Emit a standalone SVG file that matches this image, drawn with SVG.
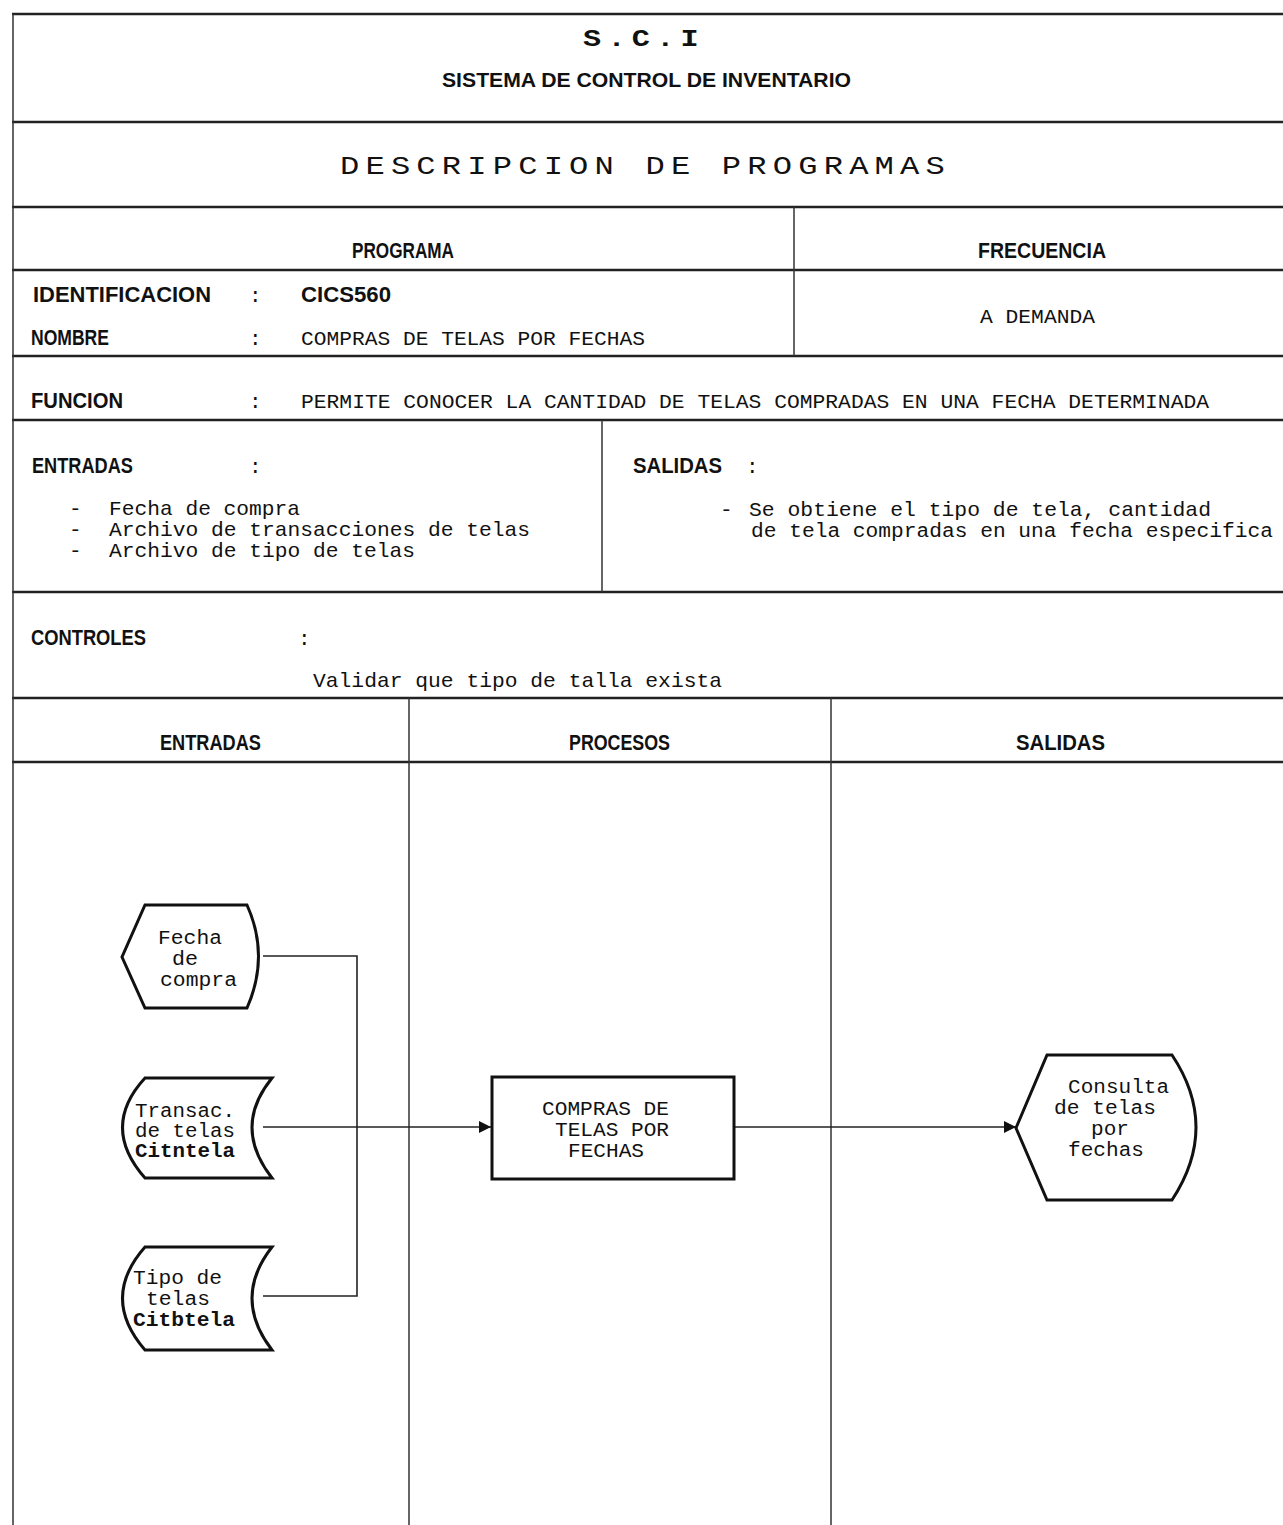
<svg xmlns="http://www.w3.org/2000/svg" width="1283" height="1525" viewBox="0 0 1283 1525">
<style>
.hl{stroke:#222;stroke-width:2.5;fill:none}
.vl{stroke:#333;stroke-width:1.5;fill:none}
.b{font-family:"Liberation Sans",Arial,sans-serif;font-weight:bold;font-size:22px;fill:#111}
.m{font-family:"Liberation Mono","DejaVu Sans Mono",monospace;font-size:21px;fill:#111}
.s{font-family:"Liberation Mono","DejaVu Sans Mono",monospace;font-size:21px;fill:#111}
.n{font-family:"Liberation Mono","DejaVu Sans Mono",monospace;font-size:20px;fill:#111}
.nb{font-family:"Liberation Mono","DejaVu Sans Mono",monospace;font-size:20px;font-weight:bold;fill:#111}
.t1{font-family:"Liberation Mono","DejaVu Sans Mono",monospace;font-size:24px;font-weight:bold;letter-spacing:5px;fill:#111}
.t2{font-family:"Liberation Mono","DejaVu Sans Mono",monospace;font-size:26px;letter-spacing:5px;fill:#111}
.shape{fill:#fff;stroke:#111;stroke-width:3}
.con{stroke:#222;stroke-width:1.6;fill:none}
</style>
<defs>
<marker id="arr" viewBox="0 0 10 10" refX="10" refY="5" markerWidth="12" markerHeight="12" markerUnits="userSpaceOnUse" orient="auto">
<path d="M0,0 L10,5 L0,10 Z" fill="#111"/>
</marker>
</defs>
<rect width="1283" height="1525" fill="#fff"/>
<g id="frame">
<line class="hl" x1="12" y1="14" x2="1283" y2="14"/>
<line class="hl" x1="12" y1="122" x2="1283" y2="122"/>
<line class="hl" x1="12" y1="207" x2="1283" y2="207"/>
<line class="hl" x1="12" y1="270" x2="1283" y2="270"/>
<line class="hl" x1="12" y1="356" x2="1283" y2="356"/>
<line class="hl" x1="12" y1="420" x2="1283" y2="420"/>
<line class="hl" x1="12" y1="592" x2="1283" y2="592"/>
<line class="hl" x1="12" y1="698" x2="1283" y2="698"/>
<line class="hl" x1="12" y1="762" x2="1283" y2="762"/>
<line class="vl" x1="13" y1="14" x2="13" y2="1525"/>
<line class="vl" x1="794" y1="207" x2="794" y2="356"/>
<line class="vl" x1="602" y1="420" x2="602" y2="592"/>
<line class="vl" x1="409" y1="698" x2="409" y2="1525"/>
<line class="vl" x1="831" y1="698" x2="831" y2="1525"/>
</g>
<g id="header">
<text class="t1" x="583" y="46" textLength="122" lengthAdjust="spacingAndGlyphs">S.C.I</text>
<text class="b" x="442" y="87" style="font-size:20px" textLength="409" lengthAdjust="spacingAndGlyphs">SISTEMA DE CONTROL DE INVENTARIO</text>
<text class="t2" x="340" y="174" textLength="611" lengthAdjust="spacingAndGlyphs">DESCRIPCION DE PROGRAMAS</text>
<text class="b" x="352" y="258" textLength="102" lengthAdjust="spacingAndGlyphs">PROGRAMA</text>
<text class="b" x="978" y="258" textLength="128" lengthAdjust="spacingAndGlyphs">FRECUENCIA</text>
<text class="b" x="33" y="302" textLength="178" lengthAdjust="spacingAndGlyphs">IDENTIFICACION</text>
<text class="m" x="249" y="302">:</text>
<text class="b" x="301" y="302" textLength="90" lengthAdjust="spacingAndGlyphs">CICS560</text>
<text class="m" x="980" y="323" textLength="115" lengthAdjust="spacingAndGlyphs">A DEMANDA</text>
<text class="b" x="31" y="345" textLength="78" lengthAdjust="spacingAndGlyphs">NOMBRE</text>
<text class="m" x="249" y="345">:</text>
<text class="m" x="301" y="345" textLength="344" lengthAdjust="spacingAndGlyphs">COMPRAS DE TELAS POR FECHAS</text>
<text class="b" x="31" y="408" textLength="92" lengthAdjust="spacingAndGlyphs">FUNCION</text>
<text class="m" x="249" y="408">:</text>
<text class="m" x="301" y="408" textLength="908" lengthAdjust="spacingAndGlyphs">PERMITE CONOCER LA CANTIDAD DE TELAS COMPRADAS EN UNA FECHA DETERMINADA</text>
<text class="b" x="32" y="473" textLength="101" lengthAdjust="spacingAndGlyphs">ENTRADAS</text>
<text class="m" x="249" y="473">:</text>
<text class="s" x="69" y="515">-</text>
<text class="s" x="109" y="515" textLength="191" lengthAdjust="spacingAndGlyphs">Fecha de compra</text>
<text class="s" x="69" y="536">-</text>
<text class="s" x="109" y="536" textLength="421" lengthAdjust="spacingAndGlyphs">Archivo de transacciones de telas</text>
<text class="s" x="69" y="557">-</text>
<text class="s" x="109" y="557" textLength="306" lengthAdjust="spacingAndGlyphs">Archivo de tipo de telas</text>
<text class="b" x="633" y="473" textLength="89" lengthAdjust="spacingAndGlyphs">SALIDAS</text>
<text class="m" x="746" y="473">:</text>
<text class="s" x="720" y="516">-</text>
<text class="s" x="749" y="516" textLength="462" lengthAdjust="spacingAndGlyphs">Se obtiene el tipo de tela, cantidad</text>
<text class="s" x="751" y="537" style="font-size:20.5px" textLength="522" lengthAdjust="spacingAndGlyphs">de tela compradas en una fecha especifica</text>
<text class="b" x="31" y="645" textLength="115" lengthAdjust="spacingAndGlyphs">CONTROLES</text>
<text class="m" x="298" y="645">:</text>
<text class="s" x="313" y="687" textLength="409" lengthAdjust="spacingAndGlyphs">Validar que tipo de talla exista</text>
<text class="b" x="160" y="750" textLength="101" lengthAdjust="spacingAndGlyphs">ENTRADAS</text>
<text class="b" x="569" y="750" textLength="101" lengthAdjust="spacingAndGlyphs">PROCESOS</text>
<text class="b" x="1016" y="750" textLength="89" lengthAdjust="spacingAndGlyphs">SALIDAS</text>
</g>
<g id="connectors">
<polyline class="con" points="263,956 357,956 357,1296 263,1296"/>
<line class="con" x1="263" y1="1127" x2="491" y2="1127" marker-end="url(#arr)"/>
<line class="con" x1="734" y1="1127" x2="1016" y2="1127" marker-end="url(#arr)"/>
</g>
<g id="n-fecha">
<path class="shape" d="M145,905 L247,905 Q270,956 247,1008 L145,1008 L122,957 Z"/>
<text class="n" x="158" y="944" textLength="64" lengthAdjust="spacingAndGlyphs">Fecha</text>
<text class="n" x="172" y="965" textLength="26" lengthAdjust="spacingAndGlyphs">de</text>
<text class="n" x="160" y="986" textLength="77" lengthAdjust="spacingAndGlyphs">compra</text>
</g>
<g id="n-citntela">
<path class="shape" d="M145,1078 L272,1078 Q232,1127 272,1178 L145,1178 Q100,1127 145,1078 Z"/>
<text class="n" x="135" y="1117" textLength="100" lengthAdjust="spacingAndGlyphs">Transac.</text>
<text class="n" x="135" y="1137" textLength="100" lengthAdjust="spacingAndGlyphs">de telas</text>
<text class="nb" x="135" y="1157" textLength="100" lengthAdjust="spacingAndGlyphs">Citntela</text>
</g>
<g id="n-citbtela">
<path class="shape" d="M145,1247 L272,1247 Q232,1298 272,1350 L145,1350 Q100,1298 145,1247 Z"/>
<text class="n" x="133" y="1284" textLength="89" lengthAdjust="spacingAndGlyphs">Tipo de</text>
<text class="n" x="146" y="1305" textLength="64" lengthAdjust="spacingAndGlyphs">telas</text>
<text class="nb" x="133" y="1326" textLength="102" lengthAdjust="spacingAndGlyphs">Citbtela</text>
</g>
<g id="n-proceso">
<rect class="shape" x="492" y="1077" width="242" height="102"/>
<text class="n" x="542" y="1115" textLength="127" lengthAdjust="spacingAndGlyphs">COMPRAS DE</text>
<text class="n" x="555" y="1136" textLength="114" lengthAdjust="spacingAndGlyphs">TELAS POR</text>
<text class="n" x="568" y="1157" textLength="76" lengthAdjust="spacingAndGlyphs">FECHAS</text>
</g>
<g id="n-consulta">
<path class="shape" d="M1047,1055 L1172,1055 Q1220,1127 1172,1200 L1047,1200 L1016,1128 Z"/>
<text class="n" x="1068" y="1093" textLength="101" lengthAdjust="spacingAndGlyphs">Consulta</text>
<text class="n" x="1054" y="1114" textLength="102" lengthAdjust="spacingAndGlyphs">de telas</text>
<text class="n" x="1091" y="1135" textLength="38" lengthAdjust="spacingAndGlyphs">por</text>
<text class="n" x="1068" y="1156" textLength="76" lengthAdjust="spacingAndGlyphs">fechas</text>
</g>
</svg>
